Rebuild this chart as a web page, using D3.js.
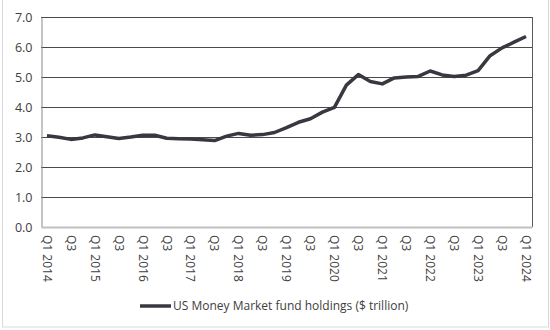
<!DOCTYPE html>
<html><head><meta charset="utf-8">
<script src="https://cdn.jsdelivr.net/npm/d3@7"></script>
<style>body{margin:0;background:#fff;}svg{display:block;font-family:"Open Sans",sans-serif;}</style>
</head><body>
<script>
const quarters = [];
const years = [2014,2015,2016,2017,2018,2019,2020,2021,2022,2023,2024];
years.forEach(y => ["Q1","Q2","Q3","Q4"].forEach(q => { if (!(y === 2024 && q !== "Q1")) quarters.push(q + " " + y); }));
const values = [
  3.04, 2.99, 2.92, 2.97,
  3.07, 3.01, 2.95, 3.00,
  3.06, 3.06, 2.96, 2.94,
  2.93, 2.91, 2.88, 3.03,
  3.12, 3.06, 3.08, 3.15,
  3.31, 3.49, 3.61, 3.83,
  3.99, 4.73, 5.08, 4.85,
  4.77, 4.97, 5.00, 5.02,
  5.20, 5.07, 5.02, 5.06,
  5.21, 5.71, 5.97, 6.16,
  6.35
];
const yTicks = [0,1,2,3,4,5,6,7];
const seriesName = "US Money Market fund holdings ($ trillion)";
const tickLabel = (q, i) => i % 2 === 0 ? (q.startsWith("Q1") ? q : "Q3") : "";

const W = 550, H = 330;
const L = 41, R = 532, T = 17, B = 227;
const svg = d3.select("body").append("svg").attr("width", W).attr("height", H);

// outer frame
svg.append("rect").attr("x", 2.5).attr("y", -5).attr("width", 546).attr("height", 332)
  .attr("fill", "none").attr("stroke", "#d9d9d9").attr("stroke-width", 1);

const x = d3.scaleBand().domain(quarters).range([L, R]);
const y = d3.scaleLinear().domain([0, 7]).range([B, T]);

// gridlines
svg.append("g").selectAll("line").data(yTicks.filter(d => d > 0)).join("line")
  .attr("x1", L).attr("x2", R).attr("y1", d => Math.round(y(d)) + 0.5).attr("y2", d => Math.round(y(d)) + 0.5)
  .attr("stroke", "#4a4a4a").attr("stroke-width", 1);

// right border
svg.append("line").attr("x1", R + 0.5).attr("x2", R + 0.5).attr("y1", T).attr("y2", B)
  .attr("stroke", "#5a5a5a").attr("stroke-width", 1);

// y axis
const yAxis = d3.axisLeft(y).tickValues(yTicks).tickFormat(d3.format(".1f")).tickSize(0).tickPadding(9);
const gy = svg.append("g").attr("transform", `translate(${L + 0.5},0)`).call(yAxis);
gy.select(".domain").attr("stroke", "#8a8a8a");
gy.selectAll("text").attr("font-size", 12.5).attr("fill", "#404040").attr("font-family", "Open Sans");

// x axis
const xAxis = d3.axisBottom(x).tickFormat(tickLabel).tickSize(0).tickPadding(0);
const gx = svg.append("g").attr("transform", `translate(0,${B})`).call(xAxis);
gx.select(".domain").attr("stroke", "#c0c0c0").attr("stroke-width", 2);
gx.selectAll("text").attr("font-size", 12).attr("fill", "#404040").attr("font-family", "Open Sans")
  .attr("text-anchor", "start").attr("dy", "0.35em")
  .attr("transform", "translate(0,8) rotate(90)").attr("x", 0).attr("y", 0);

// line
const line = d3.line().x((d, i) => x(quarters[i]) + x.bandwidth() / 2).y(d => y(d));
svg.append("path").datum(values).attr("d", line).attr("fill", "none")
  .attr("stroke", "#383840").attr("stroke-width", 3.5).attr("stroke-linejoin", "round");

// legend
const lg = svg.append("g");
lg.append("line").attr("x1", 140).attr("x2", 171).attr("y1", 306).attr("y2", 306)
  .attr("stroke", "#383840").attr("stroke-width", 3.5);
lg.append("text").attr("x", 173).attr("y", 306).attr("dy", "0.35em").attr("font-size", 12)
  .attr("fill", "#404040").text(seriesName);
</script>
</body></html>
